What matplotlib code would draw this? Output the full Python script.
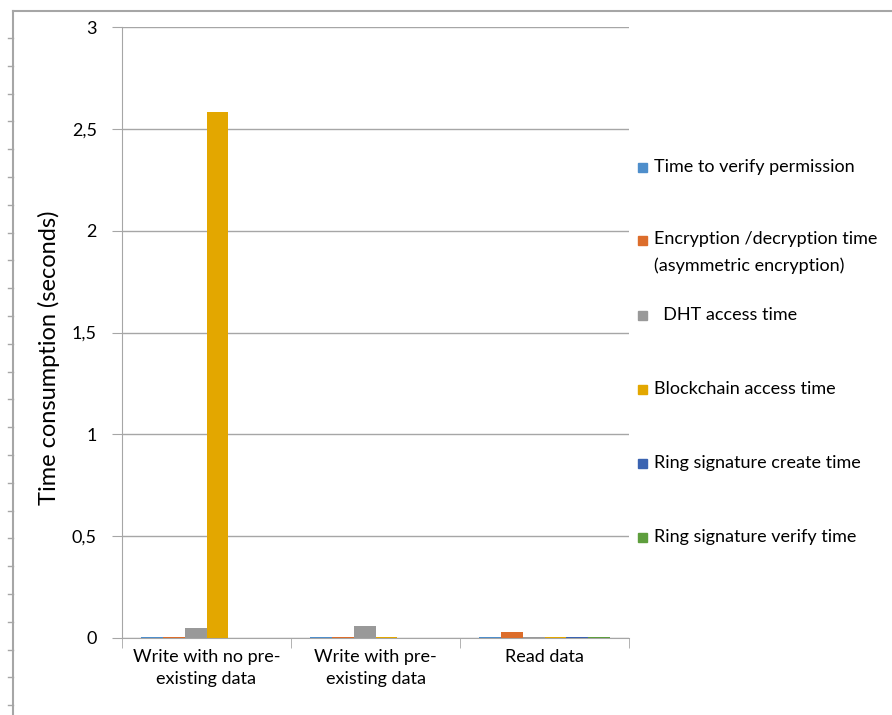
import matplotlib.pyplot as plt
import numpy as np
from matplotlib.lines import Line2D
from matplotlib.patches import Rectangle

plt.rcParams['font.family'] = ['Lato', 'DejaVu Sans']

# Categories and measured times (seconds)
categories = ["Write with no pre-\nexisting data", "Write with pre-\nexisting data", "Read data"]
series_names = ["Time to verify permission",
                "Encryption /decryption time\n(asymmetric encryption)",
                "  DHT access time",
                "Blockchain access time",
                "Ring signature create time",
                "Ring signature verify time"]
verify_perm = [0.006, 0.006, 0.006]
enc_dec = [0.006, 0.006, 0.031]
dht_access = [0.047, 0.059, 0.006]
blockchain = [2.582, 0.006, 0.006]
ring_create = [0.0, 0.0, 0.006]
ring_verify = [0.0, 0.0, 0.006]
yticks = [0, 0.5, 1, 1.5, 2, 2.5, 3]
ytick_labels = ["0", "0,5", "1", "1,5", "2", "2,5", "3"]

colors = ["#4e8ecb", "#dc6d2b", "#999999", "#e3a700", "#3a63b1", "#5e9e3d"]
series = [verify_perm, enc_dec, dht_access, blockchain, ring_create, ring_verify]

W, H = 892, 715
fig = plt.figure(figsize=(W / 100, H / 100), dpi=100)
ax = fig.add_axes([122 / W, 1 - 638 / H, (629 - 122) / W, (638 - 27) / H])

x = np.arange(len(categories))
bw = 0.13
for i, (vals, c) in enumerate(zip(series, colors)):
    ax.bar(x + (i - 2.5) * bw, vals, bw, color=c, zorder=3)

ax.set_xlim(-0.5, 2.5)
ax.set_ylim(0, 3)
ax.set_yticks(yticks)
ax.set_yticklabels(ytick_labels, fontsize=13)
ax.yaxis.grid(True, color="#a6a6a6", linewidth=1, zorder=0)
ax.set_xticks(x)
ax.set_xticklabels(categories, fontsize=13, linespacing=1.45)
ax.tick_params(axis="x", length=0, pad=8)
ax.tick_params(axis="y", length=7, color="#a6a6a6", pad=11)
# category separators on the x axis
ax.set_xticks([-0.5, 0.5, 1.5, 2.5], minor=True)
ax.tick_params(axis="x", which="minor", length=7, color="#a6a6a6")
for s in ["top", "right"]:
    ax.spines[s].set_visible(False)
for s in ["left", "bottom"]:
    ax.spines[s].set_color("#a6a6a6")
ax.set_ylabel("Time consumption (seconds)", fontsize=17)
ax.yaxis.set_label_coords(-0.122, 0.458)

# legend laid out by hand, evenly spaced down the right side
for i, (name, c) in enumerate(zip(series_names, colors)):
    yp = 167 + 74 * i
    fig.patches.append(Rectangle((638 / W, 1 - (yp + 4.5) / H), 9 / W, 9 / H,
                                 transform=fig.transFigure, color=c, figure=fig))
    if "\n" in name:
        fig.text(654 / W, 1 - (yp - 10) / H, name, fontsize=13, va="top", linespacing=1.75)
    else:
        fig.text(654 / W, 1 - yp / H, name, fontsize=13, va="center")

# outer frame with ruler ticks
frame = "#a6a6a6"
fig.add_artist(Line2D([13 / W, 13 / W], [0, 1 - 11 / H], color=frame, lw=1.5))
fig.add_artist(Line2D([13 / W, 1], [1 - 11 / H, 1 - 11 / H], color=frame, lw=1.5))
for k in range(25):
    yy = 38 + 27.8 * k
    fig.add_artist(Line2D([8 / W, 13 / W], [1 - yy / H, 1 - yy / H], color=frame, lw=1))

fig.savefig("out.png", dpi=100)
